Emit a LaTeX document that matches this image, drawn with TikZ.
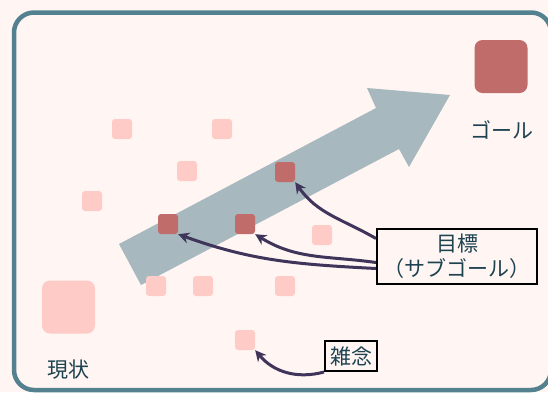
\documentclass[tikz,border=0pt]{standalone}
\usepackage{fontspec}
\newfontfamily\jpfont{Noto Sans CJK JP}
\usetikzlibrary{arrows.meta}
\definecolor{bgpink}{HTML}{FFF5F3}
\definecolor{palepink}{HTML}{FFCBC6}
\definecolor{darkrose}{HTML}{C06C6A}
\definecolor{arrowgrey}{HTML}{A7B8BE}
\definecolor{frameteal}{HTML}{538190}
\definecolor{inkteal}{HTML}{1D4250}
\definecolor{linkpurple}{HTML}{3F3459}
\begin{document}
\begin{tikzpicture}[x=1pt,y=1pt,
	pale/.style={fill=palepink,inner sep=0pt,minimum size=20pt,rounded corners=3pt},
	dark/.style={fill=darkrose,inner sep=0pt,minimum size=20pt,rounded corners=3pt},
	big/.style={inner sep=0pt,minimum size=53pt,rounded corners=8pt},
	lbl/.style={text=inkteal,font=\jpfont\fontsize{21}{25}\selectfont},
	tag/.style={lbl,draw=black,line width=2pt,fill=bgpink,inner sep=0pt,align=center},
	link/.style={draw=linkpurple,line width=3pt,-{Stealth[length=11pt,width=11pt]}}]
	\fill[bgpink] (0,0) rectangle (548,-392);
	\useasboundingbox (0,0) rectangle (548,-392);
	\draw[frameteal,line width=4.5pt,rounded corners=20pt] (14,-12.5) rectangle (551,-390);
	
	% big arrow
	\fill[arrowgrey] (119,-244) -- (376,-108) -- (367,-88) -- (450,-95) -- (409,-167) -- (399,-149) -- (141,-285) -- cycle;
	
	% start and goal
	\node[big,fill=palepink] (now) at (68.5,-307) {};
	\node[lbl] (nowtext) at (68,-370) {現状};
	\node[big,fill=darkrose] (goal) at (501,-66.5) {};
	\node[lbl] (goaltext) at (502,-130) {ゴール};
	
	% stray thoughts
	\node[pale] (p0) at (122,-129) {};
	\node[pale] (p1) at (222,-129) {};
	\node[pale] (p2) at (187,-171) {};
	\node[pale] (p3) at (92,-201) {};
	\node[pale] (p4) at (322,-235) {};
	\node[pale] (p5) at (156,-286) {};
	\node[pale] (p6) at (203,-286) {};
	\node[pale] (p7) at (285,-286) {};
	\node[pale] (p8) at (245,-340) {};
	
	% sub goals
	\node[dark] (d0) at (168,-224) {};
	\node[dark] (d1) at (245,-224) {};
	\node[dark] (d2) at (285,-172) {};
	
	% labels
	\node[tag,minimum width=160pt,minimum height=55pt] (target) at (457,-256.5) {目標\\（サブゴール）};
	\node[tag,minimum width=52pt,minimum height=30pt] (noise) at (351,-356) {雑念};
	
	\draw[link] ([yshift=18pt]target.west) to[out=150,in=-55] (d2.south east);
	\draw[link] ([yshift=-6pt]target.west) to[out=172,in=-32] (d1.south east);
	\draw[link] ([yshift=-12pt]target.west) to[out=177,in=-20] (d0.south east);
	\draw[link] (noise.south west) to[out=195,in=-50] (p8.south east);
	
\end{tikzpicture}
\end{document}
